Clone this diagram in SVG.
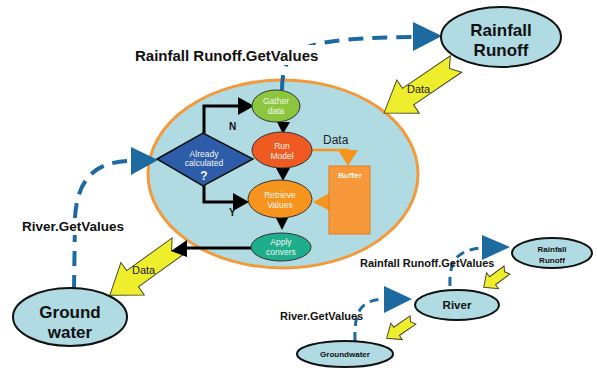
<svg xmlns="http://www.w3.org/2000/svg" width="597" height="377" viewBox="0 0 597 377">
  <style>
    .node { fill: #b0dbe2; stroke: #111; stroke-width: 2; }
    .title { font-family: "Liberation Sans", Arial, sans-serif; font-weight: bold; fill: #111; text-anchor: middle; }
    .label { font-family: "Liberation Sans", Arial, sans-serif; font-weight: bold; fill: #111; }
    .inner { font-family: "Liberation Sans", Arial, sans-serif; fill: #f4f6ee; text-anchor: middle; }
    .data { font-family: "Liberation Sans", Arial, sans-serif; fill: #222; }
    .call { fill: none; stroke: #1c6aa0; stroke-width: 4; stroke-dasharray: 15 9; }
    .call-sm { fill: none; stroke: #1c6aa0; stroke-width: 3; stroke-dasharray: 9 6; }
    .callhead { fill: #1c6aa0; }
    .flow { fill: none; stroke: #000; stroke-width: 3; }
    .flowhead { fill: #000; }
    .buf { fill: none; stroke: #f7941d; stroke-width: 2.5; }
    .bufhead { fill: #f7941d; }
    .yarrow { fill: #efee2c; stroke: #4a4a2a; stroke-width: 1; stroke-linejoin: miter; }
    .step { stroke: #333; stroke-width: 1; }
  </style>

  <!-- composition boundary: model with internal logic -->
  <g id="model">
    <ellipse cx="283" cy="174" rx="135" ry="94" fill="#b0dbe2" stroke="#f39a3c" stroke-width="3"/>
  </g>

  <!-- connectors -->
  <g id="connectors">
    <!-- GetValues call lines (big view) -->
    <path class="call" d="M282,90 C282,44 306,39 412,37"/>
    <polygon class="callhead" points="413,22 413,51 442,36"/>
    <path class="call" d="M74,290 L75,218 C77,178 96,161 132,161"/>
    <polygon class="callhead" points="131,147 131,175 158,160"/>

    <!-- GetValues call lines (small view) -->
    <path class="call-sm" d="M450,286 C449,262 456,250 482,248"/>
    <polygon class="callhead" points="482,235 482,260 510,247"/>
    <path class="call-sm" d="M355,341 C354,312 360,300 384,299"/>
    <polygon class="callhead" points="384,286 384,313 412,299"/>

    <!-- data transfer arrows -->
    <polygon class="yarrow" points="0,-10 58,-10 58,-20 87,0 58,20 58,10 0,10 8,0" transform="translate(456,64) rotate(145.8)"/>
    <polygon class="yarrow" points="0,-10 56,-10 56,-20 84,0 56,20 56,10 0,10 8,0" transform="translate(178,246) rotate(144.2)"/>
    <polygon class="yarrow" points="0,-5 18,-5 18,-10 29,0 18,10 18,5 0,5 3,0" transform="translate(507,270) rotate(143.5)"/>
    <polygon class="yarrow" points="0,-5 20,-5 20,-10 32,0 20,10 20,5 0,5 3,0" transform="translate(413,320) rotate(145.3)"/>

    <!-- internal control flow -->
    <path class="flow" d="M204,134 V106 H240"/>
    <polygon class="flowhead" points="238,97 238,115 254,106"/>
    <path class="flow" d="M204,185 V202 H234"/>
    <polygon class="flowhead" points="233,193 233,211 249,202"/>
    <polygon class="flowhead" points="277,122 290,122 283,134"/>
    <polygon class="flowhead" points="276,168 290,168 283,181"/>
    <polygon class="flowhead" points="275,216 289,216 282,230"/>
    <path class="flow" d="M252,248 H184"/>
    <polygon class="flowhead" points="187,240 187,257 171,251"/>

    <!-- buffer store / fetch -->
    <path class="buf" d="M311,150 H348 V156"/>
    <polygon class="bufhead" points="338,150 358,150 348,166"/>
    <polygon class="bufhead" points="330,193 330,211 313,202"/>
  </g>

  <!-- labels on connectors -->
  <rect x="132" y="45" width="193" height="20" fill="#fff"/>
  <text class="label" x="135" y="61" font-size="15">Rainfall Runoff.GetValues</text>
  <rect x="20" y="218" width="108" height="17" fill="#fff"/>
  <text class="label" x="22" y="231" font-size="13.5">River.GetValues</text>
  <text class="label" x="360" y="267" font-size="11">Rainfall Runoff.GetValues</text>
  <text class="label" x="280" y="320" font-size="11">River.GetValues</text>
  <text class="data" x="407" y="93" font-size="11">Data</text>
  <text class="data" x="132" y="274" font-size="11">Data</text>
  <text class="data" x="323" y="144" font-size="12">Data</text>
  <text class="label" x="229" y="130" font-size="10">N</text>
  <text class="label" x="229" y="216" font-size="10">Y</text>

  <!-- big view nodes -->
  <g id="rainfall-runoff">
    <ellipse class="node" cx="501" cy="37" rx="60" ry="30"/>
    <text class="title" x="501" y="36" font-size="17">Rainfall</text>
    <text class="title" x="501" y="56" font-size="17">Runoff</text>
  </g>
  <g id="groundwater">
    <ellipse class="node" cx="70" cy="317" rx="57" ry="29"/>
    <text class="title" x="70" y="318" font-size="17">Ground</text>
    <text class="title" x="70" y="338" font-size="17">water</text>
  </g>

  <!-- internal steps -->
  <g id="already-calculated">
    <polygon points="157,159 203,133 253,159 203,186" fill="#2d5ca8" stroke="#111" stroke-width="1.5"/>
    <text class="inner" x="204" y="157" font-size="8.5">Already</text>
    <text class="inner" x="204" y="166" font-size="8.5">calculated</text>
    <text class="inner" x="204" y="180" font-size="12" font-weight="bold">?</text>
  </g>
  <g id="gather-data">
    <ellipse class="step" cx="276" cy="106" rx="24" ry="16" fill="#8cc63e"/>
    <text class="inner" x="276" y="104" font-size="8.5">Gather</text>
    <text class="inner" x="276" y="114" font-size="8.5">data</text>
  </g>
  <g id="run-model">
    <ellipse class="step" cx="282" cy="150" rx="30" ry="18" fill="#ee5a21"/>
    <text class="inner" x="282" y="149" font-size="8.5">Run</text>
    <text class="inner" x="282" y="159" font-size="8.5">Model</text>
  </g>
  <g id="retrieve-values">
    <ellipse class="step" cx="280" cy="199" rx="32" ry="19" fill="#f7941d"/>
    <text class="inner" x="280" y="198" font-size="8.5">Retrieve</text>
    <text class="inner" x="280" y="208" font-size="8.5">Values</text>
  </g>
  <g id="apply-convers">
    <ellipse class="step" cx="281" cy="247" rx="30" ry="14" fill="#1fae8b"/>
    <text class="inner" x="281" y="245" font-size="8.5">Apply</text>
    <text class="inner" x="281" y="255" font-size="8.5">convers</text>
  </g>
  <g id="buffer">
    <rect x="329" y="166" width="41" height="68" fill="#f7993a" stroke="#e07b20" stroke-width="1"/>
    <text class="inner" x="350" y="178" font-size="8" font-weight="bold">Buffer</text>
  </g>

  <!-- small view nodes -->
  <g id="rainfall-runoff-small">
    <ellipse class="node" cx="552" cy="253" rx="40" ry="15"/>
    <text class="title" x="552" y="252" font-size="8">Rainfall</text>
    <text class="title" x="552" y="263" font-size="8">Runoff</text>
  </g>
  <g id="river">
    <ellipse class="node" cx="457" cy="305" rx="42" ry="15"/>
    <text class="title" x="457" y="309" font-size="11.5">River</text>
  </g>
  <g id="groundwater-small">
    <ellipse class="node" cx="345" cy="354" rx="48" ry="13"/>
    <text class="title" x="345" y="357" font-size="8">Groundwater</text>
  </g>
</svg>
